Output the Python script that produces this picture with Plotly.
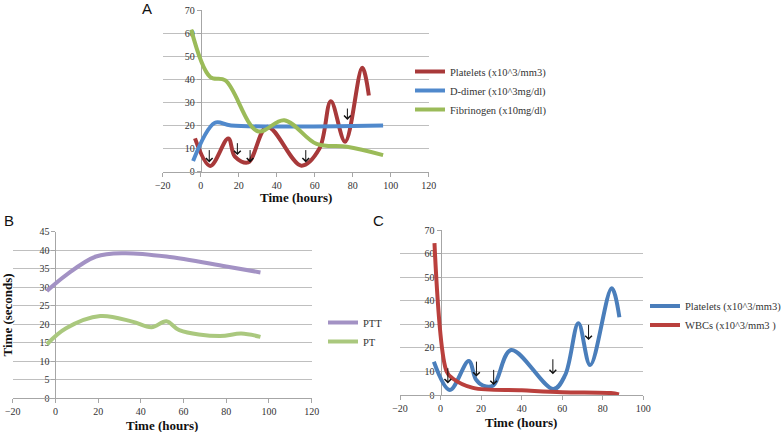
import plotly.graph_objects as go

# ---------------- Data ----------------
# Panel A
a_plt_t = [-3, 5, 14.5, 18, 25, 35, 53, 62.5, 68.5, 76, 85, 88.5]
a_plt_v = [14.4, 2.5, 14.4, 6.5, 4, 19.5, 2.6, 10, 30.5, 13, 45, 33]
a_dd_t = [-4, 7.5, 16, 96]
a_dd_v = [4.6, 21.2, 20, 20]
a_fib_t = [-5, 5, 13, 30, 44, 61, 77, 96]
a_fib_v = [61.5, 41, 39.5, 17.5, 22.3, 12, 10.8, 7.2]
a_arrow_t = [4.5, 19.3, 26, 55.3, 77.2]
a_arrow_top = [10, 13, 10, 10, 28]
a_arrow_bot = [4, 7.2, 4, 4, 22.4]

# Panel B
b_ptt_t = [-4, 5, 19, 32, 52, 80, 96]
b_ptt_v = [29, 33.3, 38.3, 39.2, 38.3, 35.6, 34]
b_pt_t = [-4, 5, 21, 36, 45, 52, 58, 77, 87, 96]
b_pt_v = [14.6, 18.9, 22.2, 20.7, 19.2, 20.8, 18.4, 16.8, 17.5, 16.6]

# Panel C
c_plt_t = [-3.3, 4.6, 13.9, 17.5, 21, 26, 34.8, 55.7, 61.5, 68, 73.8, 84.4, 88.2]
c_plt_v = [14.1, 2.1, 14.4, 6.5, 4, 4, 19.1, 2.5, 8.5, 30.4, 12.7, 45.3, 33]
c_wbc_t = [-3, 3, 6, 16, 40, 60, 84, 88]
c_wbc_v = [64.4, 10, 7, 3, 2, 1.2, 0.8, 0.2]
c_arrow_t = [3.6, 17.7, 26.2, 55.4, 73]
c_arrow_top = [12, 14.8, 11.3, 15.8, 30.4]
c_arrow_bot = [4.9, 7.8, 4.2, 8.8, 23.3]

# ---------------- Style ----------------
W, H = 782, 432
SERIF = "Liberation Serif"
SANS = "Liberation Sans"
GRID = "#BFBFBF"
AXL = "#A6A6A6"
TXT = "#333333"

def px_x(p):
    return p / W

def px_y(p):
    return 1 - p / H

fig = go.Figure()

def line(x, y, name, color, xa, ya, legend, width=4):
    fig.add_trace(go.Scatter(
        x=x, y=y, name=name, mode="lines",
        line=dict(color=color, width=width, shape="spline", smoothing=1.0),
        xaxis=xa, yaxis=ya, legend=legend, hoverinfo="skip"))

# Panel A: grid axis y, labelled axis y4 (same range, overlaying)
line(a_plt_t, a_plt_v, "Platelets (x10^3/mm3)", "#A8393A", "x", "y", "legend")
line(a_dd_t, a_dd_v, "D-dimer (x10^3mg/dl)", "#5089CC", "x", "y", "legend")
line(a_fib_t, a_fib_v, "Fibrinogen (x10mg/dl)", "#9BBB59", "x", "y4", "legend")
# Panel B
line(b_ptt_t, b_ptt_v, "PTT", "#A392C4", "x2", "y2", "legend2")
line(b_pt_t, b_pt_v, "PT", "#AAC87E", "x2", "y5", "legend2")
# Panel C
line(c_plt_t, c_plt_v, "Platelets (x10^3/mm3)", "#4A7EBB", "x3", "y3", "legend3")
line(c_wbc_t, c_wbc_v, "WBCs (x10^3/mm3 )", "#BA403D", "x3", "y6", "legend3")

tickfont = dict(family=SERIF, size=10, color=TXT)

def xaxis(dom, rng, anchor):
    return dict(domain=dom, range=rng, dtick=20, showgrid=False, zeroline=False,
                showline=True, linecolor=AXL, linewidth=1, ticks="outside",
                ticklen=4, tickcolor=AXL, tickfont=tickfont, fixedrange=True,
                automargin=False, anchor=anchor)

def ygrid(dom, rng, dt, anchor):
    return dict(domain=dom, range=rng, dtick=dt, showgrid=True, gridcolor=GRID,
                gridwidth=1, zeroline=False, showline=False, ticks="",
                showticklabels=False, fixedrange=True, automargin=False,
                anchor=anchor)

def ylab(base, dom, rng, dt, pos):
    return dict(overlaying=base, domain=dom, range=rng, dtick=dt, showgrid=False,
                zeroline=False, showline=True, linecolor=AXL, linewidth=1,
                ticks="outside", ticklen=4, tickcolor=AXL, tickfont=tickfont,
                anchor="free", position=pos, fixedrange=True, automargin=False,
                layer="below traces")

# domains (pixel based)
a_x0, a_x1 = 162.7, 428.7
a_y0, a_y1 = 10, 171.7
b_x0, b_x1 = 12.7, 311.7
b_y0, b_y1 = 231.7, 398.3
c_x0, c_x1 = 400, 643.3
c_y0, c_y1 = 230, 395

a_ydom = [px_y(a_y1), px_y(a_y0)]
b_ydom = [px_y(b_y1), px_y(b_y0)]
c_ydom = [px_y(c_y1), px_y(c_y0)]

fig.update_layout(
    width=W, height=H, margin=dict(l=0, r=0, t=0, b=0, autoexpand=False),
    paper_bgcolor="white", plot_bgcolor="rgba(0,0,0,0)",
    xaxis=xaxis([px_x(a_x0), px_x(a_x1)], [-20, 120], "y"),
    yaxis=ygrid(a_ydom, [0, 70], 10, "x"),
    xaxis2=xaxis([px_x(b_x0), px_x(b_x1)], [-20, 120], "y2"),
    yaxis2=ygrid(b_ydom, [0, 45], 5, "x2"),
    xaxis3=xaxis([px_x(c_x0), px_x(c_x1)], [-20, 100], "y3"),
    yaxis3=ygrid(c_ydom, [0, 70], 10, "x3"),
    yaxis4=ylab("y", a_ydom, [0, 70], 10, px_x(a_x0 + (a_x1 - a_x0) * 20 / 140)),
    yaxis5=ylab("y2", b_ydom, [0, 45], 5, px_x(b_x0 + (b_x1 - b_x0) * 20 / 140)),
    yaxis6=ylab("y3", c_ydom, [0, 70], 10, px_x(c_x0 + (c_x1 - c_x0) * 20 / 120)),
    showlegend=True,
)

legfont = dict(family=SERIF, size=10.5, color=TXT)
fig.update_layout(
    legend=dict(x=px_x(410), y=px_y(57), xanchor="left", yanchor="top",
                font=legfont, bgcolor="rgba(0,0,0,0)", itemwidth=30),
    legend2=dict(x=px_x(323), y=px_y(308), xanchor="left", yanchor="top",
                 font=legfont, bgcolor="rgba(0,0,0,0)", itemwidth=30),
    legend3=dict(x=px_x(645), y=px_y(291.5), xanchor="left", yanchor="top",
                 font=legfont, bgcolor="rgba(0,0,0,0)", itemwidth=30),
)

ann = []
def arrows(ts, tops, bots, xr, yr):
    for t, tp, bt in zip(ts, tops, bots):
        ann.append(dict(x=t, y=bt, ax=t, ay=tp, xref=xr, yref=yr, axref=xr,
                        ayref=yr, text="", showarrow=True, arrowhead=4,
                        arrowsize=1.3, arrowwidth=1, arrowcolor="#111111",
                        standoff=0))

arrows(a_arrow_t, a_arrow_top, a_arrow_bot, "x", "y")
arrows(c_arrow_t, c_arrow_top, c_arrow_bot, "x3", "y3")

def text(t, x, y, font, angle=0):
    ann.append(dict(x=px_x(x), y=px_y(y), xref="paper", yref="paper",
                    xanchor="center", yanchor="middle", text=t,
                    showarrow=False, font=font, textangle=angle))

titlefont = dict(family=SERIF, size=13, color="#111111")
text("<b>Time (hours)</b>", 296, 198, titlefont)
text("<b>Time (hours)</b>", 162.2, 425, titlefont)
text("<b>Time (hours)</b>", 521, 422, titlefont)
text("<b>Time (seconds)</b>", 6.5, 315, titlefont, -90)

labfont = dict(family=SANS, size=15, color="#111111")
text("A", 147, 8.5, labfont)
text("B", 8.5, 220, labfont)
text("C", 378.5, 220, labfont)

fig.update_layout(annotations=ann)
fig.write_html(
    "out.html",
    config={"displayModeBar": False},
    post_script="document.body.style.margin='0';document.body.style.padding='0';"
                "document.body.style.overflow='hidden';",
)
